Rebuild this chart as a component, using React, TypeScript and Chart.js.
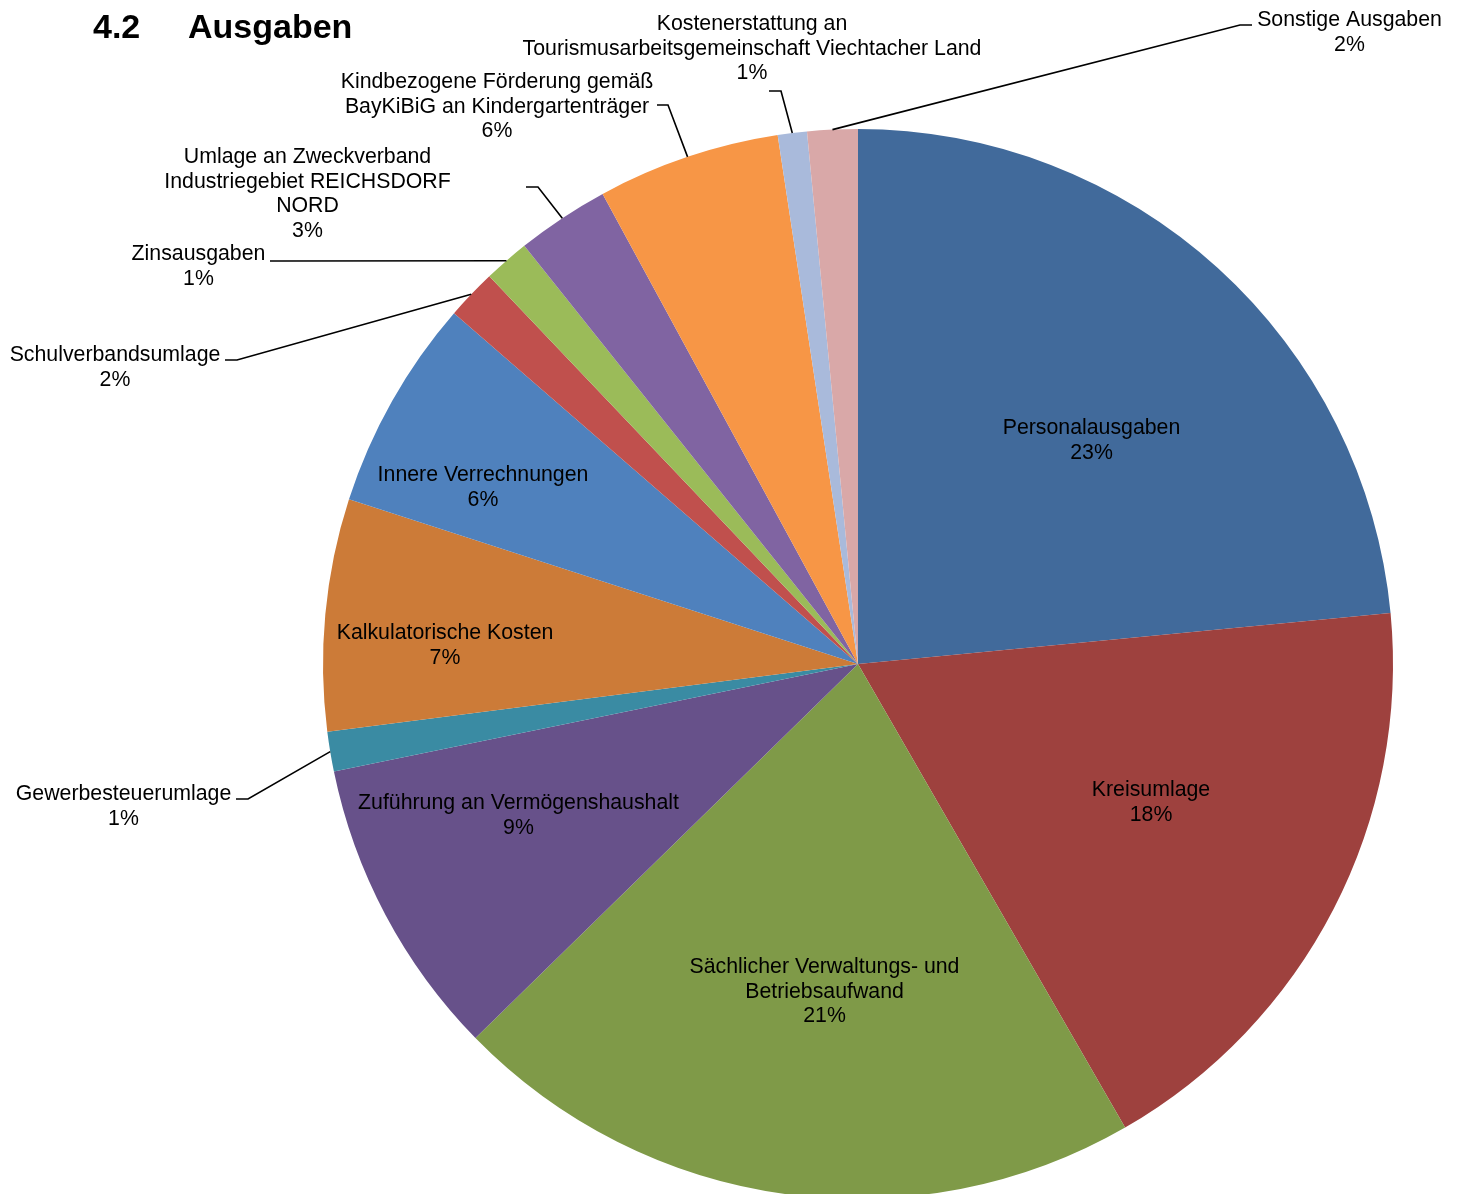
import { useEffect, useRef } from "react";
import { Chart, registerables } from "chart.js";

Chart.register(...registerables);

// ---------- data ----------
const categories: string[][] = [
  ["Personalausgaben"],
  ["Kreisumlage"],
  ["Sächlicher Verwaltungs- und", "Betriebsaufwand"],
  ["Zuführung an Vermögenshaushalt"],
  ["Gewerbesteuerumlage"],
  ["Kalkulatorische Kosten"],
  ["Innere Verrechnungen"],
  ["Schulverbandsumlage"],
  ["Zinsausgaben"],
  ["Umlage an Zweckverband", "Industriegebiet REICHSDORF", "NORD"],
  ["Kindbezogene Förderung gemäß", "BayKiBiG an Kindergartenträger"],
  ["Kostenerstattung an", "Tourismusarbeitsgemeinschaft Viechtacher Land"],
  ["Sonstige Ausgaben"],
];

const shares: number[] = [23.48, 18.2, 21.0, 9.1, 1.2, 7.0, 6.4, 1.52, 1.38, 2.8, 5.52, 0.88, 1.52];

const sliceColors: string[] = [
  "#416A9B",
  "#9E413E",
  "#7F9A48",
  "#67518A",
  "#3A8BA3",
  "#CC7B38",
  "#4F81BD",
  "#C0504D",
  "#9BBB59",
  "#8064A2",
  "#F79646",
  "#A9BADB",
  "#D9A8A8",
];

const titleNumber = "4.2";
const titleText = "Ausgaben";

// ---------- label layout (offsets from pie centre, px) ----------
// tx, ty: centre of first text line; leader: [startX, startY, elbowX, elbowY] or null
type LabelPos = { tx: number; ty: number; leader: number[] | null };
const labelLayout: LabelPos[] = [
  { tx: 233.5, ty: -237, leader: null },
  { tx: 293, ty: 125, leader: null },
  { tx: -33.5, ty: 302, leader: null },
  { tx: -339.5, ty: 138, leader: null },
  { tx: -734.5, ty: 129, leader: [-622, 135, -610, 135] },
  { tx: -413, ty: -32, leader: null },
  { tx: -375, ty: -190, leader: null },
  { tx: -743, ty: -310, leader: [-633, -304, -621, -304] },
  { tx: -659.5, ty: -411, leader: [-588, -403, -576, -403] },
  { tx: -550.5, ty: -508, leader: [-332, -477, -320, -477] },
  { tx: -361, ty: -583, leader: [-201, -559, -190, -559] },
  { tx: -106, ty: -641, leader: [-89, -573, -77, -573] },
  { tx: 491.5, ty: -645, leader: [394, -639, 382, -639] },
];

const FONT = '"Liberation Sans", Arial, sans-serif';
const LABEL_SIZE = 21.3;
const LINE_H = 24.5;
const TEXT_DY = 1.5;

const labelPlugin = {
  id: "excelLabels",
  afterDraw(chart: any) {
    const ctx: CanvasRenderingContext2D = chart.ctx;
    const meta = chart.getDatasetMeta(0);
    const data: number[] = chart.data.datasets[0].data;
    const total = data.reduce((a, b) => a + b, 0);
    ctx.save();

    // title
    ctx.fillStyle = "#000";
    ctx.font = `bold 34px ${FONT}`;
    ctx.textAlign = "left";
    ctx.textBaseline = "alphabetic";
    ctx.fillText(titleNumber, 93, 38);
    ctx.fillText(titleText, 188, 38);

    meta.data.forEach((arc: any, i: number) => {
      const p = arc.getProps(["x", "y", "startAngle", "endAngle", "outerRadius"], true);
      const cx = p.x;
      const cy = p.y;
      const lay = labelLayout[i];
      const pct = Math.round((data[i] * 100) / total) + "%";
      const lines = [...categories[i], pct];

      ctx.fillStyle = "#000";
      ctx.font = `${LABEL_SIZE}px ${FONT}`;
      ctx.textAlign = "center";
      ctx.textBaseline = "middle";
      lines.forEach((ln, k) => {
        ctx.fillText(ln, cx + lay.tx, cy + lay.ty + TEXT_DY + k * LINE_H);
      });

      if (lay.leader) {
        const mid = (p.startAngle + p.endAngle) / 2;
        const ex = cx + Math.cos(mid) * p.outerRadius;
        const ey = cy + Math.sin(mid) * p.outerRadius;
        ctx.strokeStyle = "#000";
        ctx.lineWidth = 1.6;
        ctx.beginPath();
        ctx.moveTo(cx + lay.leader[0], cy + lay.leader[1]);
        ctx.lineTo(cx + lay.leader[2], cy + lay.leader[3]);
        ctx.lineTo(ex, ey);
        ctx.stroke();
      }
    });
    ctx.restore();
  },
};

export default function App() {
  const ref = useRef<HTMLCanvasElement | null>(null);

  useEffect(() => {
    if (!ref.current) return;
    const chart = new Chart(ref.current, {
      type: "pie",
      data: {
        labels: categories.map((c) => c.join(" ")),
        datasets: [
          {
            data: shares,
            backgroundColor: sliceColors,
            borderWidth: 0,
          },
        ],
      },
      options: {
        responsive: false,
        animation: false,
        devicePixelRatio: 1,
        layout: { padding: { left: 323, right: 66, top: 129, bottom: 11 } },
        plugins: {
          legend: { display: false },
          tooltip: { enabled: false },
        },
      },
      plugins: [labelPlugin],
    });
    return () => chart.destroy();
  }, []);

  return (
    <div
      style={{
        position: "fixed",
        left: 0,
        top: 0,
        width: 1459,
        height: 1194,
        overflow: "hidden",
        background: "#fff",
      }}
    >
      <canvas ref={ref} width={1459} height={1210} style={{ display: "block", width: 1459, height: 1210 }} />
    </div>
  );
}
